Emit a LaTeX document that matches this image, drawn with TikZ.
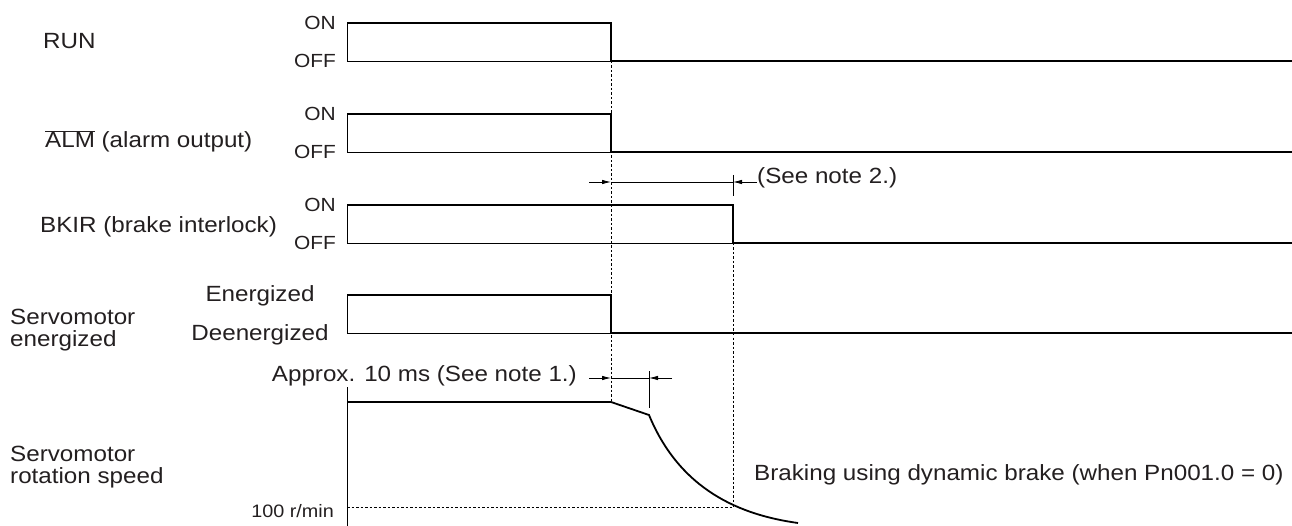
\documentclass[tikz,border=0pt]{standalone}
\usepackage{fontspec}
\setmainfont[FakeStretch=1.1]{Liberation Sans}
\usetikzlibrary{arrows.meta}
\definecolor{ink}{HTML}{231F20}

\begin{document}
\begin{tikzpicture}[x=1pt,y=-1pt,font=\fontsize{22}{24}\selectfont,
  every node/.style={inner sep=0pt,text=ink},
  sig/.style={line width=1.8pt,line join=miter},
  base/.style={line width=.8pt},
  guide/.style={line width=.7pt,dash pattern=on 2.5pt off 2pt},
  dimarrow/.style={line width=.8pt,-{Latex[length=9pt,width=4.5pt]}},
  lvl/.style={font=\fontsize{19}{20}\selectfont,anchor=east}]
  \useasboundingbox (0,0) rectangle (1292,526);
  % signal names
  \node[anchor=base west] (run) at (43,49) {RUN};
  \node[anchor=base west] (alm) at (45,148) {$\overline{\mbox{ALM}}$ (alarm output)};
  \node[anchor=base west] (bkir) at (40,233) {BKIR (brake interlock)};
  \node[anchor=base west] (enlbl) at (10,324) {Servomotor};
  \node[anchor=base west] (enlbl2) at (10,346) {energized};
  \node[anchor=base west] (spdlbl) at (10,461) {Servomotor};
  \node[anchor=base west] (spdlbl2) at (10,483) {rotation speed};
  % levels
  \node[lvl] (runon) at (336,23) {ON};
  \node[lvl] (runoff) at (336,61) {OFF};
  \node[lvl] (almon) at (336,114) {ON};
  \node[lvl] (almoff) at (336,152) {OFF};
  \node[lvl] (bkon) at (336,205) {ON};
  \node[lvl] (bkoff) at (336,243) {OFF};
  \node[anchor=base] (en) at (260,302) {Energized};
  \node[anchor=base] (deen) at (260,341) {Deenergized};
  \node[lvl,font=\fontsize{18}{20}\selectfont,anchor=base east] (rpm) at (334,517) {100 r/min};
  % waveforms
  \draw[sig] (347,23) -- (611,23) -- (611,61) -- (1292,61);
  \draw[base] (611,61) -- (347,61) -- (347,23);
  \draw[sig] (347,114) -- (611,114) -- (611,152) -- (1292,152);
  \draw[base] (611,152) -- (347,152) -- (347,114);
  \draw[sig] (347,205) -- (733,205) -- (733,243) -- (1292,243);
  \draw[base] (733,243) -- (347,243) -- (347,205);
  \draw[sig] (347,295) -- (611,295) -- (611,333) -- (1292,333);
  \draw[base] (611,333) -- (347,333) -- (347,295);
  \draw[base] (347,387) -- (347,526);
  \draw[sig] (347,402) -- (611,402) -- (649,415)
    .. controls (680,490) and (740,515) .. (798,523);
  % timing guides
  \draw[guide] (611,61) -- (611,402);
  \draw[guide] (733,243) -- (733,507);
  \draw[guide] (347,507) -- (733,507);
  % note 2
  \node[anchor=base west] (note2) at (757,184) {(See note 2.)};
  \coordinate (n2a) at (611,182);
  \coordinate (n2b) at (733,182);
  \draw[dimarrow] (589,182) -- (n2a);
  \draw[base] (n2a) -- (n2b);
  \draw[dimarrow] (note2.west |- n2b) -- (n2b);
  \draw[base] (733,175) -- (733,196);
  % note 1
  \node[anchor=base east] (note1) at (577,381) {Approx. 10 ms (See note 1.)};
  \coordinate (n1a) at (611,378);
  \coordinate (n1b) at (649,378);
  \draw[dimarrow] (589,378) -- (n1a);
  \draw[base] (n1a) -- (n1b);
  \draw[dimarrow] (672,378) -- (n1b);
  \draw[base] (649,371) -- (649,408);
  \node[anchor=base west] (dbrake) at (754,480) {Braking using dynamic brake (when Pn001.0 = 0)};
\end{tikzpicture}
\end{document}
